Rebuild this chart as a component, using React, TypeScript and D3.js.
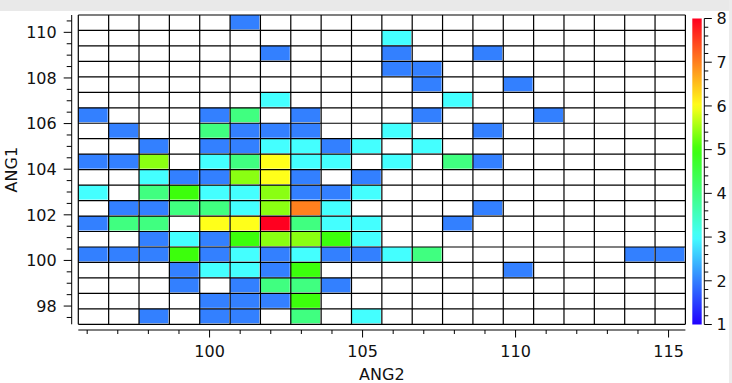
import React from "react";
import * as d3 from "d3";

// Bin edges of the 2D histogram (ANG2 on x, ANG1 on y)
const X_EDGES_RANGE = [95.71, 115.55];
const Y_EDGES_RANGE = [97.2, 110.76];
const N_BINS_X = 20;
const N_BINS_Y = 20;

// Counts per cell, top row = highest ANG1, columns left -> right (0 = empty)
const COUNTS: number[][] = [
  [0, 0, 0, 0, 0, 2, 0, 0, 0, 0, 0, 0, 0, 0, 0, 0, 0, 0, 0, 0],
  [0, 0, 0, 0, 0, 0, 0, 0, 0, 0, 3, 0, 0, 0, 0, 0, 0, 0, 0, 0],
  [0, 0, 0, 0, 0, 0, 2, 0, 0, 0, 2, 0, 0, 2, 0, 0, 0, 0, 0, 0],
  [0, 0, 0, 0, 0, 0, 0, 0, 0, 0, 2, 2, 0, 0, 0, 0, 0, 0, 0, 0],
  [0, 0, 0, 0, 0, 0, 0, 0, 0, 0, 0, 2, 0, 0, 2, 0, 0, 0, 0, 0],
  [0, 0, 0, 0, 0, 0, 3, 0, 0, 0, 0, 0, 3, 0, 0, 0, 0, 0, 0, 0],
  [2, 0, 0, 0, 2, 4, 0, 2, 0, 0, 0, 2, 0, 0, 0, 2, 0, 0, 0, 0],
  [0, 2, 0, 0, 4, 2, 2, 2, 0, 0, 3, 0, 0, 2, 0, 0, 0, 0, 0, 0],
  [0, 0, 2, 0, 2, 2, 3, 3, 2, 3, 0, 3, 0, 0, 0, 0, 0, 0, 0, 0],
  [2, 2, 5.4, 0, 3, 4, 6, 3, 3, 0, 3, 0, 4, 2, 0, 0, 0, 0, 0, 0],
  [0, 0, 3, 2, 2, 5.4, 6, 2, 0, 2, 0, 0, 0, 0, 0, 0, 0, 0, 0, 0],
  [3, 0, 4, 5, 3, 3, 5.4, 2, 2, 3, 0, 0, 0, 0, 0, 0, 0, 0, 0, 0],
  [0, 2, 2, 4, 4, 3, 5.4, 7, 3, 0, 0, 0, 0, 2, 0, 0, 0, 0, 0, 0],
  [2, 4, 4, 0, 6, 6, 8, 4, 3, 3, 0, 0, 2, 0, 0, 0, 0, 0, 0, 0],
  [0, 0, 2, 3, 2, 5, 5.4, 5.4, 5, 3, 0, 0, 0, 0, 0, 0, 0, 0, 0, 0],
  [2, 2, 2, 5, 2, 3, 2, 3, 2, 2, 3, 4, 0, 0, 0, 0, 0, 0, 2, 2],
  [0, 0, 0, 2, 3, 3, 2, 5, 0, 0, 0, 0, 0, 0, 2, 0, 0, 0, 0, 0],
  [0, 0, 0, 2, 0, 2, 4, 4, 2, 0, 0, 0, 0, 0, 0, 0, 0, 0, 0, 0],
  [0, 0, 0, 0, 2, 2, 2, 5, 0, 0, 0, 0, 0, 0, 0, 0, 0, 0, 0, 0],
  [0, 0, 2, 0, 2, 2, 0, 4, 0, 3, 0, 0, 0, 0, 0, 0, 0, 0, 0, 0],
];

const X_MAJOR = [100, 105, 110, 115];
const X_MINOR = d3.range(96, 116, 1);
const Y_MAJOR = [98, 100, 102, 104, 106, 108, 110];
const Y_MINOR = d3.range(97.5, 111, 0.5);
const CB_MAJOR = [1, 2, 3, 4, 5, 6, 7, 8];
const CB_MINOR = d3.range(1, 8.001, 0.2);

const COLOR_DOMAIN = [1, 2, 3, 4, 5, 6, 7, 8];
const COLOR_RANGE = ["#2000ff", "#3380ff", "#44ffff", "#40ff80", "#3cff0c", "#ffff1a", "#ff801e", "#ff0020"];

const FONT = "'DejaVu Sans', Verdana, sans-serif";

export default function App() {
  const W = 732, H = 383;
  const pl = 78.3, pr = 685.4, pt = 15, pb = 324.3;
  const x = d3.scaleLinear().domain(X_EDGES_RANGE).range([pl, pr]);
  const y = d3.scaleLinear().domain(Y_EDGES_RANGE).range([pb, pt]);
  const color = d3.scaleLinear<string>().domain(COLOR_DOMAIN).range(COLOR_RANGE).interpolate(d3.interpolateRgb);

  const xEdges = d3.range(N_BINS_X + 1).map(i => X_EDGES_RANGE[0] + (i * (X_EDGES_RANGE[1] - X_EDGES_RANGE[0])) / N_BINS_X);
  const yEdges = d3.range(N_BINS_Y + 1).map(i => Y_EDGES_RANGE[1] - (i * (Y_EDGES_RANGE[1] - Y_EDGES_RANGE[0])) / N_BINS_Y);

  const cbTop = 18.5, cbBot = 324.5, cbX = 692.3, cbW = 9.4;
  const cb = d3.scaleLinear().domain([1, 8]).range([cbBot, cbTop]);
  const gradStops = d3.range(0, 1.0001, 0.02).map(t => ({ t, c: color(1 + 7 * t) }));

  const xAxisY = 330;
  const yAxisX = 71.7;
  const cbAxisX = 704.3;

  return (
    <svg width={W} height={H} style={{ position: "fixed", left: 0, top: 0, background: "#fff" }} fontFamily={FONT}>
      <defs>
        <linearGradient id="cbgrad" x1="0" y1="1" x2="0" y2="0">
          {gradStops.map((s, i) => (
            <stop key={i} offset={s.t} stopColor={s.c} />
          ))}
        </linearGradient>
      </defs>
      <rect x={0} y={0} width={W} height={H} fill="#fff" />
      <rect x={0} y={0} width={W} height={11} fill="#e9e9e9" />
      <rect x={729} y={0} width={3} height={H} fill="#ececec" />

      {/* cells */}
      {COUNTS.map((row, r) =>
        row.map((v, c) =>
          v > 0 ? (
            <rect
              key={`${r}-${c}`}
              x={x(xEdges[c])}
              y={yEdges[r] !== undefined ? y(yEdges[r]) : 0}
              width={x(xEdges[c + 1]) - x(xEdges[c]) - 1}
              height={y(yEdges[r + 1]) - y(yEdges[r]) - 1}
              fill={color(v)}
            />
          ) : null
        )
      )}

      {/* grid */}
      {xEdges.map((e, i) => (
        <line key={`gx${i}`} x1={x(e)} x2={x(e)} y1={pt} y2={pb} stroke="#000" strokeWidth={1.2} />
      ))}
      {yEdges.map((e, i) => (
        <line key={`gy${i}`} x1={pl} x2={pr} y1={y(e)} y2={y(e)} stroke="#000" strokeWidth={1.2} />
      ))}

      {/* x axis */}
      <line x1={pl} x2={pr} y1={xAxisY} y2={xAxisY} stroke="#000" strokeWidth={1} />
      {X_MINOR.map(t => (
        <line key={`xm${t}`} x1={x(t)} x2={x(t)} y1={xAxisY} y2={xAxisY + (X_MAJOR.includes(t) ? 7.5 : 4)} stroke="#000" strokeWidth={1} />
      ))}
      {X_MAJOR.map(t => (
        <text key={`xl${t}`} x={x(t)} y={357} textAnchor="middle" fontSize={16} fill="#111">
          {t}
        </text>
      ))}
      <text x={(pl + pr) / 2} y={380} textAnchor="middle" fontSize={16} fill="#111">
        ANG2
      </text>

      {/* y axis */}
      <line x1={yAxisX} x2={yAxisX} y1={pt} y2={pb} stroke="#000" strokeWidth={1} />
      {Y_MINOR.map(t => (
        <line key={`ym${t}`} x1={yAxisX} x2={yAxisX - (Y_MAJOR.includes(t) ? 8 : 5)} y1={y(t)} y2={y(t)} stroke="#000" strokeWidth={1} />
      ))}
      {Y_MAJOR.map(t => (
        <text key={`yl${t}`} x={56.7} y={y(t) + 5.8} textAnchor="end" fontSize={16} fill="#111">
          {t}
        </text>
      ))}
      <text transform={`translate(16.7,${(pt + pb) / 2}) rotate(-90)`} textAnchor="middle" fontSize={16} fill="#111">
        ANG1
      </text>

      {/* colorbar */}
      <rect x={cbX} y={cbTop} width={cbW} height={cbBot - cbTop} fill="url(#cbgrad)" />
      <line x1={cbAxisX} x2={cbAxisX} y1={cbTop} y2={cbBot} stroke="#000" strokeWidth={1} />
      {CB_MINOR.map((t, i) => {
        const major = Math.abs(t - Math.round(t)) < 1e-6;
        return (
          <line key={`cm${i}`} x1={cbAxisX} x2={cbAxisX + (major ? 7.5 : 4)} y1={cb(t)} y2={cb(t)} stroke="#000" strokeWidth={1} />
        );
      })}
      {CB_MAJOR.map(t => (
        <text key={`cl${t}`} x={716.5} y={cb(t) + 5.8} fontSize={16} fill="#111">
          {t}
        </text>
      ))}
    </svg>
  );
}
